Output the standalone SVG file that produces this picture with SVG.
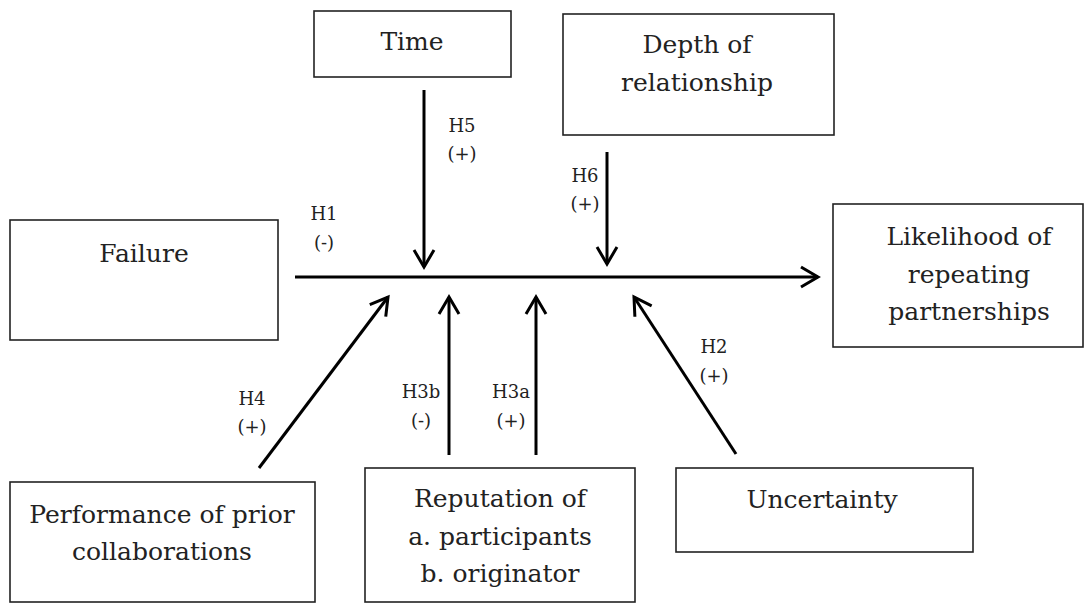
<svg xmlns="http://www.w3.org/2000/svg" width="1089" height="603" viewBox="0 0 1089 603">
<style>
.box{fill:#fff;stroke:#222;stroke-width:1.6}
.t{font-family:"DejaVu Serif","Liberation Serif",serif;font-size:25px;fill:#222;text-anchor:middle}
.l{font-family:"DejaVu Serif","Liberation Serif",serif;font-size:18px;fill:#222;text-anchor:middle}
.c{stroke:#000;stroke-width:3;fill:none;marker-end:url(#ah)}
</style>
<defs>
<marker id="ah" markerUnits="userSpaceOnUse" viewBox="-22 -13 26 26" refX="0" refY="0" markerWidth="26" markerHeight="26" orient="auto">
<path d="M-17,-10 L0,0 L-17,10" fill="none" stroke="#000" stroke-width="3"/>
</marker>
</defs>
<rect width="1089" height="603" fill="#fff"/>
<g id="time"><rect class="box" x="314" y="11" width="197" height="66"/><text class="t" x="412" y="50">Time</text></g>
<g id="depth"><rect class="box" x="563" y="14" width="271" height="121"/><text class="t" x="697" y="53">Depth of</text><text class="t" x="697" y="91">relationship</text></g>
<g id="failure"><rect class="box" x="10" y="220" width="268" height="120"/><text class="t" x="144" y="262">Failure</text></g>
<g id="likelihood"><rect class="box" x="833" y="204" width="250" height="143"/><text class="t" x="969" y="245">Likelihood of</text><text class="t" x="969" y="283">repeating</text><text class="t" x="969" y="320">partnerships</text></g>
<g id="performance"><rect class="box" x="10" y="482" width="305" height="120"/><text class="t" x="162" y="523">Performance of prior</text><text class="t" x="162" y="560">collaborations</text></g>
<g id="reputation"><rect class="box" x="365" y="468" width="270" height="134"/><text class="t" x="500" y="507">Reputation of</text><text class="t" x="500" y="545">a. participants</text><text class="t" x="500" y="582">b. originator</text></g>
<g id="uncertainty"><rect class="box" x="676" y="468" width="297" height="84"/><text class="t" x="822" y="508">Uncertainty</text></g>
<g id="connectors">
<line class="c" x1="295" y1="277" x2="818" y2="277"/>
<line class="c" x1="424" y1="90" x2="424" y2="267"/>
<line class="c" x1="607" y1="152" x2="607" y2="264"/>
<line class="c" x1="259" y1="468" x2="388" y2="297"/>
<line class="c" x1="449" y1="455" x2="449" y2="297"/>
<line class="c" x1="536" y1="455" x2="536" y2="297"/>
<line class="c" x1="736" y1="454" x2="634" y2="297"/>
</g>
<g id="labels">
<text class="l" x="324" y="220">H1</text><text class="l" x="324" y="249">(-)</text>
<text class="l" x="462" y="132">H5</text><text class="l" x="462" y="160">(+)</text>
<text class="l" x="585" y="182">H6</text><text class="l" x="585" y="210">(+)</text>
<text class="l" x="252" y="405">H4</text><text class="l" x="252" y="433">(+)</text>
<text class="l" x="421" y="398">H3b</text><text class="l" x="421" y="427">(-)</text>
<text class="l" x="511" y="398">H3a</text><text class="l" x="511" y="427">(+)</text>
<text class="l" x="714" y="353">H2</text><text class="l" x="714" y="382">(+)</text>
</g>
</svg>
